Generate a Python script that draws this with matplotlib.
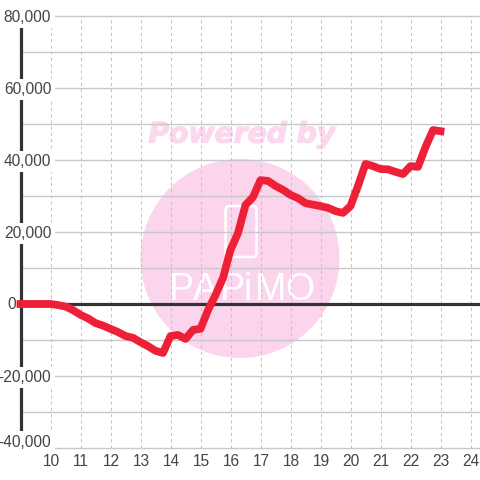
import matplotlib
matplotlib.use("Agg")
import matplotlib.pyplot as plt
import matplotlib.patheffects as pe
from matplotlib.patches import Circle, FancyBboxPatch
from matplotlib.transforms import Affine2D

hours = [9 + 0.25 * i for i in range(57)]
values = [0, 0, 0, 0, 0, -300, -700, -1700, -3000, -4000, -5300, -6000, -6900, -7800, -8900, -9400,
          -10600, -11700, -13000, -13600, -8900, -8600, -9700, -7200, -6900, -1700, 2500, 7200,
          15000, 19700, 27500, 29700, 34400, 34200, 32800, 31700, 30300, 29400, 28000, 27600,
          27200, 26700, 25800, 25300, 27200, 32800, 38900, 38300, 37500, 37400, 36700, 36100,
          38300, 38100, 43600, 48300, 48000]
x_ticks = list(range(10, 25))
y_major = [80000, 60000, 40000, 20000, 0, -20000, -40000]
y_minor = [70000, 50000, 30000, 10000, -10000, -30000]

plt.rcParams["font.family"] = ["Liberation Sans", "DejaVu Sans"]
fig = plt.figure(figsize=(4.8, 4.8), dpi=100, facecolor="white")
ax = fig.add_axes([0, 0, 1, 1])
PXX = 30.0
PXY = 20000 / 72.0
xl = 10 - 50.5 / PXX
yt = 304 * PXY
ax.set_xlim(xl, xl + 480 / PXX)
ax.set_ylim(yt - 480 * PXY, yt)
ax.axis("off")
px = Affine2D().scale(1, -1).translate(0, 480)

ax.add_patch(Circle((240, 258.5), 99.5, transform=px, fc="#fbd5ec", ec="none", zorder=0))
ax.text(242, 134.5, "Powered by", transform=px, color="#fcd8ee", fontsize=20.3, fontweight="bold",
        fontstyle="italic", family="DejaVu Sans", ha="center", va="center", zorder=0,
        path_effects=[pe.withStroke(linewidth=1.0, foreground="#fcd8ee")])
ax.add_patch(FancyBboxPatch((225.5, 206), 31, 51, boxstyle="round,pad=0,rounding_size=4", transform=px,
                            fc="none", ec="white", lw=1.8, zorder=1))
for cx, ch in zip([181, 205, 232, 248, 271, 300], "PAPiMO"):
    ax.text(cx, 290, ch, transform=px, color="white", fontsize=27,
            family=["Liberation Sans Narrow", "Liberation Sans"],
            ha="center", va="center", zorder=1.5)

ax.vlines(x_ticks, -40000, 80000, color="#c4c4c4", lw=0.75, ls=(0, (3, 3)), zorder=2)
ax.hlines(y_major + y_minor, 9, xl + 16, color="#c8c8c8", lw=1.0, zorder=2)
ax.hlines(0, 9, xl + 16, color="#333333", lw=2.3, zorder=3)
ax.vlines(9, -40000, 78000, color="#333333", lw=2.3, zorder=3)

for v in y_major:
    label = f"{v:,}"
    if v == 0:
        ax.annotate(label, (9, v), xytext=(-3, -0.7), textcoords="offset points", ha="right", va="center",
                    fontsize=11.2, color="#444444", zorder=4)
    else:
        dy = 4.2 if v == -40000 else -1.1
        ax.annotate(label, (10, v), xytext=(0.5, dy), textcoords="offset points", ha="right", va="center",
                    fontsize=11.2, color="#444444", zorder=4,
                    bbox=dict(fc="white", ec="none", pad=2.5))

for t in x_ticks:
    ax.annotate(str(t), (t, -40000), xytext=(0.5, -9.5), textcoords="offset points", ha="center", va="center",
                fontsize=11.2, color="#444444", zorder=4)

ax.plot(hours, values, color="#ee2038", lw=5.6, solid_joinstyle="round", solid_capstyle="projecting", zorder=5)
fig.savefig("out.png", dpi=100)
